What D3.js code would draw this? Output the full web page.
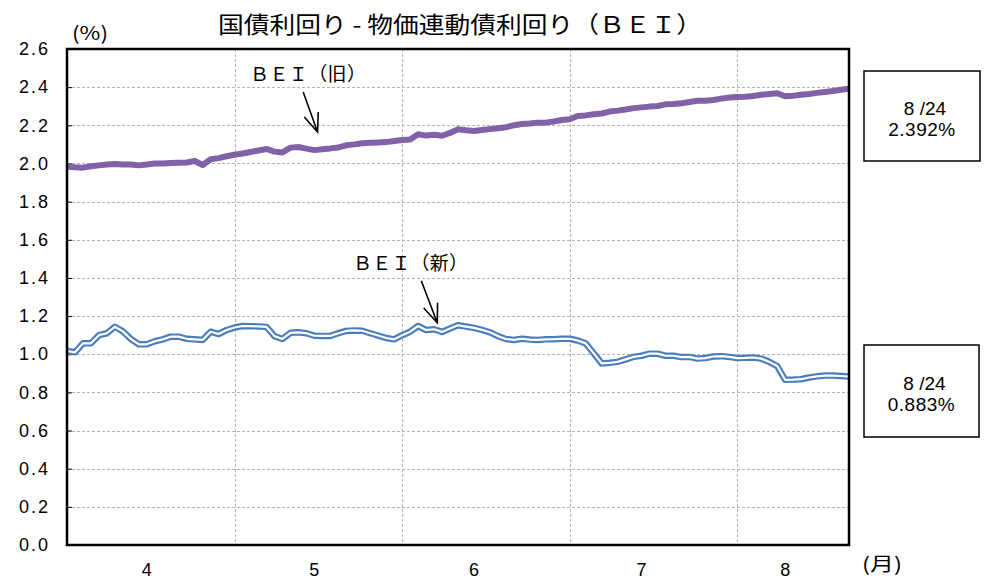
<!DOCTYPE html>
<html>
<head>
<meta charset="utf-8">
<script src="https://cdn.jsdelivr.net/npm/d3@7"></script>
<style>
  body { margin: 0; background: #fff; }
  svg { display: block; }
</style>
</head>
<body>
<svg id="chart"></svg>
<script>
// ---- data ----
const titleText = '国債利回り - 物価連動債利回り（ＢＥＩ）';
const monthLabels = ['4', '5', '6', '7', '8'];
const monthLabelIdx = [10, 31, 51, 72, 90];   // where each month label sits (day index)
const monthBreakIdx = [21, 42, 63, 84];       // vertical grid lines between months
const yTicks = [0, 0.2, 0.4, 0.6, 0.8, 1.0, 1.2, 1.4, 1.6, 1.8, 2.0, 2.2, 2.4, 2.6];

const beiOld = [
  1.983, 1.980, 1.978, 1.985, 1.990, 1.995, 1.997, 1.995, 1.995, 1.990,
  1.995, 2.000, 2.000, 2.003, 2.004, 2.005, 2.013, 1.992, 2.022, 2.028,
  2.038, 2.046, 2.052, 2.060, 2.068, 2.076, 2.062, 2.058, 2.083, 2.086,
  2.078, 2.070, 2.075, 2.079, 2.084, 2.095, 2.100, 2.106, 2.108, 2.110,
  2.112, 2.118, 2.123, 2.125, 2.153, 2.146, 2.150, 2.145, 2.160, 2.179,
  2.174, 2.170, 2.175, 2.180, 2.185, 2.190, 2.200, 2.207, 2.210, 2.214,
  2.214, 2.220, 2.228, 2.232, 2.249, 2.252, 2.258, 2.262, 2.272, 2.277,
  2.283, 2.290, 2.294, 2.298, 2.301, 2.310, 2.312, 2.316, 2.322, 2.329,
  2.329, 2.333, 2.340, 2.346, 2.348, 2.350, 2.354, 2.360, 2.364, 2.368,
  2.352, 2.355, 2.360, 2.364, 2.370, 2.375, 2.380, 2.386, 2.392
];

const beiNew = [
  1.017, 1.010, 1.057, 1.057, 1.100, 1.110, 1.144, 1.120, 1.080, 1.052,
  1.052, 1.068, 1.078, 1.092, 1.092, 1.081, 1.078, 1.075, 1.118, 1.106,
  1.127, 1.140, 1.148, 1.147, 1.146, 1.143, 1.095, 1.080, 1.112, 1.115,
  1.110, 1.097, 1.096, 1.096, 1.110, 1.122, 1.125, 1.123, 1.110, 1.098,
  1.085, 1.078, 1.100, 1.118, 1.148, 1.127, 1.131, 1.117, 1.135, 1.152,
  1.145, 1.138, 1.128, 1.115, 1.095, 1.080, 1.075, 1.081, 1.077, 1.075,
  1.078, 1.079, 1.081, 1.081, 1.072, 1.057, 1.005, 0.952, 0.955, 0.960,
  0.973, 0.986, 0.992, 1.003, 1.003, 0.992, 0.992, 0.985, 0.986, 0.977,
  0.980, 0.988, 0.990, 0.986, 0.980, 0.981, 0.983, 0.977, 0.960, 0.938,
  0.866, 0.867, 0.869, 0.878, 0.884, 0.888, 0.888, 0.886, 0.883
];

const lastDate = '8 /24';
const seriesNames = ['ＢＥＩ（旧）', 'ＢＥＩ（新）'];

// ---- layout ----
const W = 989, H = 581;
const margin = {top: 49, right: 140, bottom: 36, left: 67};
const JP = '"Noto Sans CJK JP", sans-serif';
const NUM = '"Liberation Sans", Arial, sans-serif';

const svg = d3.select('#chart')
  .attr('width', W)
  .attr('height', H);

svg.append('rect').attr('width', W).attr('height', H).attr('fill', '#fff');

const x = d3.scaleLinear()
  .domain([0, beiOld.length - 1])
  .range([margin.left, W - margin.right]);

const y = d3.scaleLinear()
  .domain([0, 2.6])
  .range([H - margin.bottom, margin.top]);

// grid
const grid = svg.append('g').attr('class', 'grid')
  .attr('stroke', '#b4b4b4')
  .attr('stroke-width', 1)
  .attr('stroke-dasharray', '3,2');

grid.selectAll('.hgrid')
  .data(yTicks.slice(1, -1))
  .join('line')
  .attr('class', 'hgrid')
  .attr('x1', x.range()[0]).attr('x2', x.range()[1])
  .attr('y1', d => Math.round(y(d)) + 0.5).attr('y2', d => Math.round(y(d)) + 0.5);

grid.selectAll('.vgrid')
  .data(monthBreakIdx)
  .join('line')
  .attr('class', 'vgrid')
  .attr('x1', d => Math.round(x(d)) + 0.5).attr('x2', d => Math.round(x(d)) + 0.5)
  .attr('y1', y.range()[1]).attr('y2', y.range()[0]);

// y axis
const yAxis = d3.axisLeft(y)
  .tickValues(yTicks)
  .tickSizeInner(-5)
  .tickSizeOuter(0)
  .tickPadding(17)
  .tickFormat(d3.format('.1f'));

svg.append('g')
  .attr('transform', `translate(${margin.left},0)`)
  .call(yAxis)
  .call(g => g.select('.domain').remove())
  .call(g => g.selectAll('.tick line').attr('stroke', '#000'))
  .call(g => g.selectAll('.tick text')
    .attr('font-family', NUM)
    .attr('font-size', 18)
    .attr('letter-spacing', 2)
    .attr('fill', '#000'));

// x labels (months)
svg.append('g')
  .selectAll('text')
  .data(monthLabels)
  .join('text')
  .attr('x', (d, i) => x(monthLabelIdx[i]))
  .attr('y', 576)
  .attr('text-anchor', 'middle')
  .attr('font-family', NUM)
  .attr('font-size', 18)
  .text(d => d);

// lines
const line = d3.line()
  .x((d, i) => x(i))
  .y(d => y(d));

svg.append('path')
  .datum(beiOld)
  .attr('d', line)
  .attr('fill', 'none')
  .attr('stroke', '#7f62a8')
  .attr('stroke-width', 6)
  .attr('stroke-linejoin', 'round');

svg.append('path')
  .datum(beiNew)
  .attr('d', line)
  .attr('fill', 'none')
  .attr('stroke', '#4a7ebb')
  .attr('stroke-width', 6.5)
  .attr('stroke-linejoin', 'round');

svg.append('path')
  .datum(beiNew)
  .attr('d', line)
  .attr('fill', 'none')
  .attr('stroke', '#fff')
  .attr('stroke-width', 2.2)
  .attr('stroke-linejoin', 'round');

// frame
svg.append('rect')
  .attr('x', x.range()[0])
  .attr('y', y.range()[1])
  .attr('width', x.range()[1] - x.range()[0])
  .attr('height', y.range()[0] - y.range()[1])
  .attr('fill', 'none')
  .attr('stroke', '#000')
  .attr('stroke-width', 2.5);

// title and axis units
svg.append('text')
  .attr('x', 460).attr('y', 33)
  .attr('text-anchor', 'middle')
  .attr('font-family', JP)
  .attr('font-size', 23)
  .attr('textLength', 484)
  .attr('lengthAdjust', 'spacingAndGlyphs')
  .text(titleText);

svg.append('text')
  .attr('x', 72).attr('y', 40)
  .attr('font-family', JP)
  .attr('font-size', 19)
  .attr('textLength', 36)
  .attr('lengthAdjust', 'spacingAndGlyphs')
  .text('(%)');

svg.append('text')
  .attr('x', 862).attr('y', 571)
  .attr('font-family', JP)
  .attr('font-size', 19)
  .attr('textLength', 40)
  .attr('lengthAdjust', 'spacingAndGlyphs')
  .text('(月)');

// annotations with arrows (anchored in data units)
const notes = [
  {label: seriesNames[0], tx: 250, ty: 81, tw: 116, from: [29.6, 2.375], to: [31.4, 2.165]},
  {label: seriesNames[1], tx: 353, ty: 270, tw: 115, from: [44.4, 1.385], to: [46.4, 1.165]}
];

notes.forEach(n => {
  svg.append('text')
    .attr('x', n.tx).attr('y', n.ty)
    .attr('font-family', JP)
    .attr('font-size', 19)
    .attr('textLength', n.tw)
    .attr('lengthAdjust', 'spacing')
    .text(n.label);

  const x1 = x(n.from[0]), y1 = y(n.from[1]);
  const x2 = x(n.to[0]), y2 = y(n.to[1]);
  const ang = Math.atan2(y2 - y1, x2 - x1);
  const len = 20, spread = 0.38;
  const wing = s => [x2 - len * Math.cos(ang + s), y2 - len * Math.sin(ang + s)];
  const a = wing(spread), b = wing(-spread);

  svg.append('path')
    .attr('d', `M${x1},${y1}L${x2},${y2}M${a[0]},${a[1]}L${x2},${y2}L${b[0]},${b[1]}`)
    .attr('fill', 'none')
    .attr('stroke', '#000')
    .attr('stroke-width', 1.6);
});

// last value boxes
const boxes = [
  {value: beiOld[beiOld.length - 1], x: 864, y: 71, w: 116, h: 90},
  {value: beiNew[beiNew.length - 1], x: 864, y: 345, w: 115, h: 92}
];

boxes.forEach(b => {
  svg.append('rect')
    .attr('x', b.x).attr('y', b.y)
    .attr('width', b.w).attr('height', b.h)
    .attr('fill', '#fff')
    .attr('stroke', '#000')
    .attr('stroke-width', 1.5);

  svg.append('text')
    .attr('x', b.x + b.w / 2 + 3).attr('y', b.y + b.h / 2 - 1)
    .attr('text-anchor', 'middle')
    .attr('font-family', NUM)
    .attr('font-size', 19)
    .text(lastDate);

  svg.append('text')
    .attr('x', b.x + b.w / 2).attr('y', b.y + b.h / 2 + 20)
    .attr('text-anchor', 'middle')
    .attr('font-family', NUM)
    .attr('font-size', 19)
    .attr('letter-spacing', 0.5)
    .text(d3.format('.3f')(b.value) + '%');
});
</script>
</body>
</html>
